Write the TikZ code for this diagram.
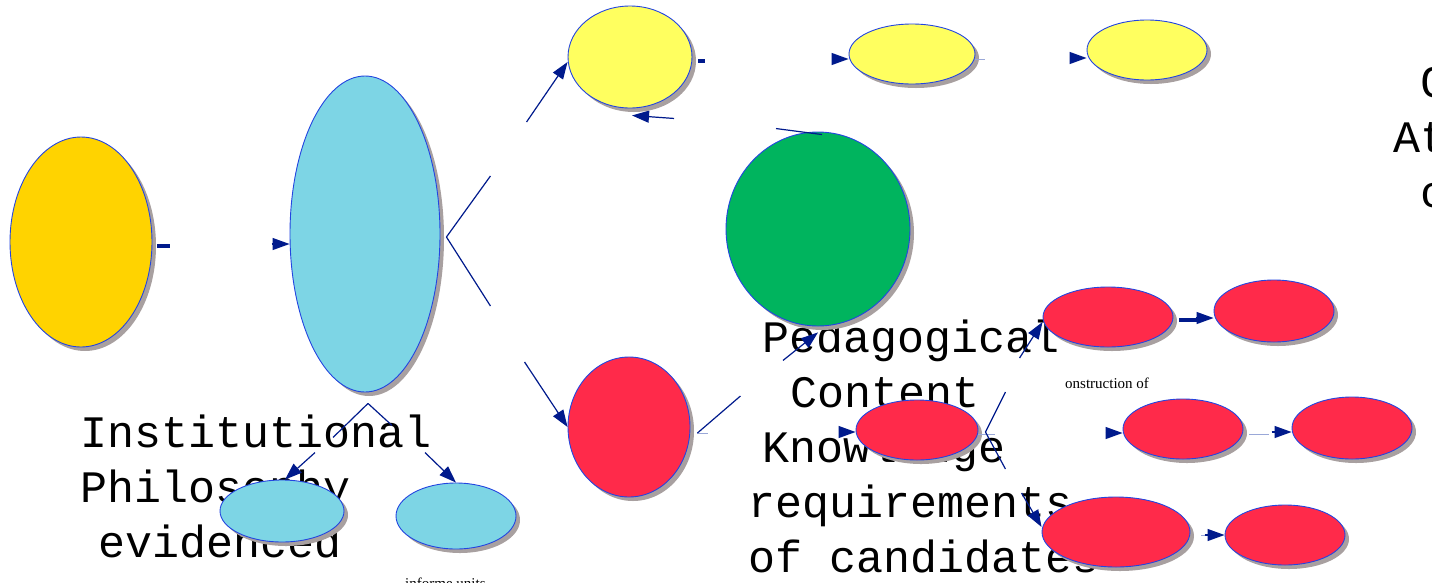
\documentclass[tikz,border=0pt]{standalone}
\usepackage{fontspec}
\setmainfont{Liberation Serif}
\setmonofont{Liberation Mono}
\usetikzlibrary{shapes.geometric,arrows.meta,shadows,calc}

\definecolor{gold}{HTML}{FFD300}
\definecolor{sky}{HTML}{7DD5E5}
\definecolor{lemon}{HTML}{FFFF5F}
\definecolor{leaf}{HTML}{00B45E}
\definecolor{rose}{HTML}{FF2A4A}
\definecolor{rim}{HTML}{2345E0}
\definecolor{shade}{HTML}{A8A0A0}
\definecolor{navy}{HTML}{001A8C}
\definecolor{faint}{HTML}{9AA8D8}

\tikzset{
  blob/.style={ellipse, draw=rim, line width=0.9pt, inner sep=0pt,
    drop shadow={shadow xshift=4pt, shadow yshift=-4pt, fill=shade, opacity=1}},
  conn/.style={draw=navy, line width=1.2pt},
  arr/.style={conn, -{Triangle[length=17pt,width=12pt]}},
  stub/.style={draw=navy, line width=4pt},
  thin/.style={draw=faint, line width=0.6pt},
  bigtext/.style={font=\ttfamily\fontsize{45}{55}\selectfont, inner sep=0pt,
    anchor=base west, align=left},
  smalltext/.style={font=\fontsize{15}{18}\selectfont, inner sep=0pt, anchor=base west}
}

\begin{document}
\begin{tikzpicture}[x=1pt, y=-1pt]
\useasboundingbox (0,0) rectangle (1432,582);
\clip (0,0) rectangle (1432,582);

% labels, set underneath the shapes (anchored at the last baseline)
\node[bigtext] (instlabel) at (80,557)
  {Institutional\\Philosophy\\\hspace{18pt}evidenced};
\node[bigtext] (pcklabel) at (748,572)
  {\hspace{14pt}Pedagogical\\\hspace{42pt}Content\\\hspace{14pt}Knowledge\\requirements\\of candidates};
\node[bigtext] (edgelabel) at (1393,207) {\hspace{27pt}C\\At\\\hspace{27pt}c};
\node[smalltext] (constr) at (1065,388) {onstruction of};
\node[smalltext] (informe) at (405,588) {informe units};

% shapes
\node[blob, fill=gold,  minimum width=142, minimum height=210] (phil)   at (81,242)   {};
\node[blob, fill=sky,   minimum width=150, minimum height=316] (inst)   at (365,234)  {};
\node[blob, fill=sky,   minimum width=124, minimum height=62]  (instA)  at (282,511)  {};
\node[blob, fill=sky,   minimum width=120, minimum height=66]  (instB)  at (456,516)  {};
\node[blob, fill=lemon, minimum width=124, minimum height=102] (ytop)   at (630,57)   {};
\node[blob, fill=lemon, minimum width=126, minimum height=60]  (yA)     at (912,54)   {};
\node[blob, fill=lemon, minimum width=120, minimum height=60]  (yB)     at (1147,50)  {};
\node[blob, fill=leaf,  minimum width=184, minimum height=194] (hub)    at (818,229)  {};
\node[blob, fill=rose,  minimum width=122, minimum height=140] (rtall)  at (629,427)  {};
\node[blob, fill=rose,  minimum width=122, minimum height=60]  (rmid)   at (917,430)  {};
\node[blob, fill=rose,  minimum width=130, minimum height=60]  (rA)     at (1108,317) {};
\node[blob, fill=rose,  minimum width=120, minimum height=62]  (rB)     at (1274,311) {};
\node[blob, fill=rose,  minimum width=120, minimum height=60]  (rC)     at (1183,429) {};
\node[blob, fill=rose,  minimum width=120, minimum height=62]  (rD)     at (1352,428) {};
\node[blob, fill=rose,  minimum width=148, minimum height=70]  (rE)     at (1116,532) {};
\node[blob, fill=rose,  minimum width=120, minimum height=60]  (rF)     at (1285,535) {};

% philosophy -> institution
\draw[stub] ($(phil.east)+(5,4)$) -- ++(13,0);
\draw[arr] ($(inst.west)+(-18,10)$) -- ($(inst.west)+(0,10)$);

% institution fans out to the right
\draw[conn] ($(inst.east)+(6,3)$) -- ++(44,-61);
\draw[conn] ($(inst.east)+(6,3)$) -- ++(44,69);
\draw[arr] ($(ytop.west)+(-41,65)$) -- ($(ytop.west)+(0,5)$);
\draw[arr] ($(rtall.west)+(-43,-65)$) -- (rtall.west);

% institution fans out downward
\draw[conn] ($(inst.south)+(3,11)$) -- ++(-35,34);
\draw[conn] ($(inst.south)+(3,11)$) -- ++(24,22);
\draw[arr] ($(instA.north)+(33,-27)$) -- ($(instA.north)+(3,0)$);
\draw[arr] ($(instB.north)+(-31,-30)$) -- (instB.north);

% yellow chain
\draw[stub] ($(ytop.east)+(6,4)$) -- ++(7,0);
\draw[arr] ($(yA.west)+(-11,5)$) -- ($(yA.west)+(0,5)$);
\draw[thin] ($(yA.east)+(0,5)$) -- ++(10,0);
\draw[arr] ($(yB.west)+(-15,8)$) -- ($(yB.west)+(0,8)$);

% hub -> top yellow
\draw[conn] ($(hub.north)+(4,3)$) -- ++(-46,-6);
\draw[arr] ($(ytop.south)+(44,10)$) -- ($(ytop.south)+(2,7)$);

% red tall -> hub
\draw[thin] ($(rtall.east)+(7,6)$) -- ++(11,0);
\draw[conn] ($(rtall.east)+(7,6)$) -- ++(43,-37);
\draw[arr] ($(hub.south)+(-35,34)$) -- ($(hub.south)+(0,6)$);

% red middle and its branches
\draw[arr] ($(rmid.west)+(-13,2)$) -- ($(rmid.west)+(0,2)$);
\draw[thin] ($(rmid.east)+(0,4)$) -- ++(17,0);
\draw[conn] ($(rmid.east)+(7,2)$) -- ++(20,-40);
\draw[conn] ($(rmid.east)+(7,2)$) -- ++(20,37);
\draw[arr] ($(rA.west)+(-23,41)$) -- ($(rA.west)+(0,5)$);
\draw[arr] ($(rE.west)+(-20,-39)$) -- ($(rE.west)+(0,-5)$);

% red pairs
\draw[draw=navy, line width=3.5pt] ($(rA.east)+(6,3)$) -- ++(18,0);
\draw[arr] ($(rB.west)+(-18,7)$) -- ($(rB.west)+(0,7)$);
\draw[arr] ($(rC.west)+(-17,4)$) -- ($(rC.west)+(0,4)$);
\draw[thin] ($(rC.east)+(6,5)$) -- ++(20,0);
\draw[arr] ($(rD.west)+(-20,4)$) -- ($(rD.west)+(0,4)$);
\draw[thin] ($(rE.east)+(11,3)$) -- ++(6,0);
\draw[arr] ($(rF.west)+(-20,0)$) -- (rF.west);
\end{tikzpicture}
\end{document}
